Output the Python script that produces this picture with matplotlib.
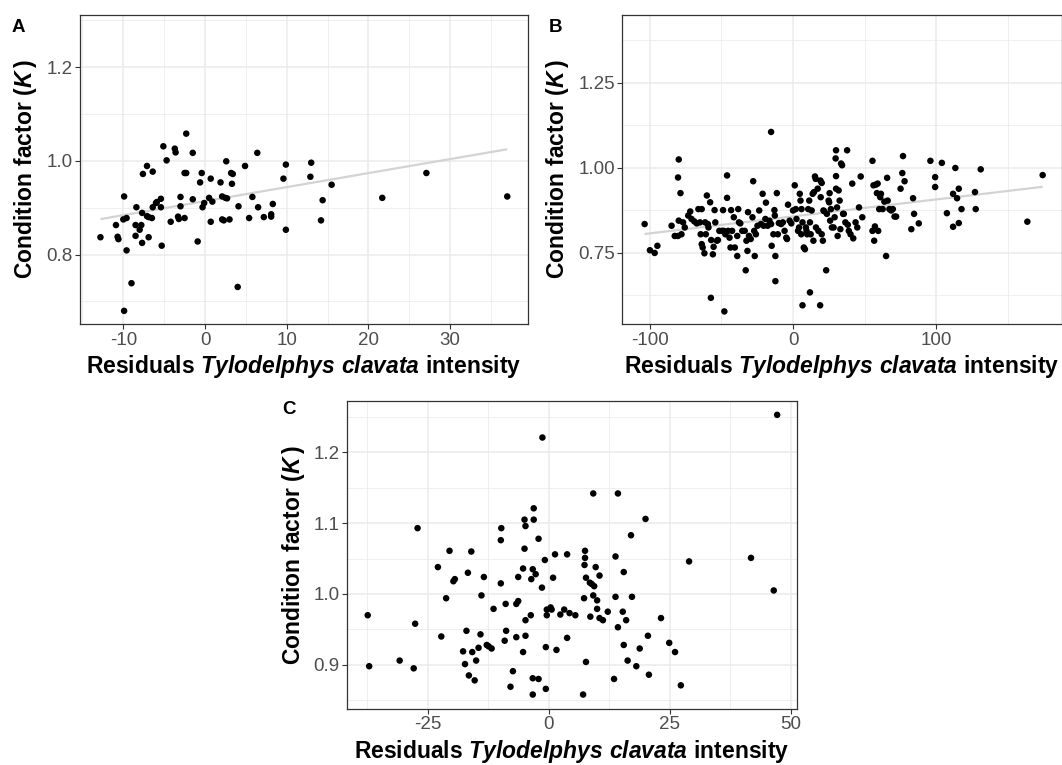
import matplotlib
matplotlib.use("Agg")
import matplotlib.pyplot as plt
import numpy as np

plt.rcParams['font.family'] = ['Liberation Sans', 'DejaVu Sans']
plt.rcParams['mathtext.fontset'] = 'custom'
plt.rcParams['mathtext.rm'] = 'Liberation Sans:bold'
plt.rcParams['mathtext.bf'] = 'Liberation Sans:bold'
plt.rcParams['mathtext.it'] = 'Liberation Sans:italic:bold'
plt.rcParams['axes.unicode_minus'] = False

# ---------------- Panel A data ----------------
a_x = [-12.8, -10.9, -10.7, -10.6, -9.9, -10.0, -9.6, -9.6, -9.0, -9.9, -8.4, -8.5, -8.5, -8.0,
       -7.8, -7.7, -7.7, -7.6, -7.1, -7.1, -6.9, -6.9, -6.5, -6.4, -6.4, -6.0, -5.9, -5.4, -5.4,
       -5.3, -5.1, -4.7, -4.2, -3.7, -3.6, -3.3, -3.2, -3.0, -3.0, -2.5, -2.5, -2.3, -2.3, -1.5,
       -1.5, -0.9, -0.6, -0.4, -0.3, -0.1, 0.5, 0.7, 0.7, 0.9, 1.9, 2.1, 2.1, 2.3, 2.5, 2.6, 2.7,
       3.0, 3.2, 3.3, 3.4, 4.0, 4.1, 4.9, 5.4, 5.8, 6.4, 6.5, 7.2, 8.1, 8.1, 8.3, 9.6, 9.9, 9.9,
       12.9, 13.0, 14.2, 14.4, 15.5, 21.7, 27.1, 37.0]
a_y = [0.837, 0.863, 0.838, 0.833, 0.924, 0.875, 0.878, 0.809, 0.739, 0.680, 0.901, 0.863, 0.840,
       0.853, 0.863, 0.889, 0.825, 0.972, 0.989, 0.882, 0.880, 0.837, 0.878, 0.977, 0.901, 0.910,
       0.912, 0.919, 0.901, 0.819, 1.031, 1.001, 0.870, 1.026, 1.018, 0.881, 0.876, 0.923, 0.903,
       0.878, 0.974, 0.974, 1.058, 1.017, 0.918, 0.828, 0.954, 0.974, 0.901, 0.910, 0.921, 0.962,
       0.870, 0.913, 0.954, 0.924, 0.875, 0.873, 0.921, 0.999, 0.920, 0.875, 0.974, 0.951, 0.972,
       0.731, 0.903, 0.989, 0.878, 0.923, 1.017, 0.901, 0.880, 0.886, 0.881, 0.908, 0.962, 0.992,
       0.853, 0.966, 0.996, 0.873, 0.916, 0.949, 0.921, 0.974, 0.924]
a_fit = (0.914, 0.00299)          # intercept, slope of the grey trend line
a_xticks = [-10, 0, 10, 20, 30]
a_yticks = [0.8, 1.0, 1.2]
a_xminor = [-15, -5, 5, 15, 25, 35]
a_yminor = [0.7, 0.9, 1.1, 1.3]

# ---------------- Panel B data ----------------
b_x = [-103.5, -99.8, -96.5, -94.6, -84.7, -82.5, -79.7, -80.2, -80.2, -78.5, -79.7, -77.8, -76.7,
       -75.5, -73.1, -71.7, -70.8, -68.9, -67.2, -66.0, -64.9, -64.4, -63.7, -63.7, -63.0, -61.8,
       -61.3, -60.8, -60.1, -59.4, -59.0, -57.8, -57.1, -57.3, -55.9, -55.4, -54.7, -54.2, -53.1,
       -52.4, -51.4, -49.5, -48.8, -48.3, -47.9, -47.2, -46.0, -46.0, -45.3, -44.3, -43.6, -43.2,
       -42.5, -41.3, -40.6, -38.9, -38.9, -38.2, -37.7, -36.8, -35.4, -33.7, -33.0, -32.5, -31.8,
       -31.4, -30.7, -29.5, -28.3, -27.8, -27.1, -26.7, -25.9, -24.8, -23.6, -22.4, -21.2, -20.5,
       -19.3, -18.9, -17.7, -16.5, -15.3, -15.3, -14.9, -13.7, -13.0, -12.7, -12.3, -12.3, -11.3,
       -10.6, -9.9, -8.3, -7.1, -5.9, -4.7, -4.2, -3.5, -2.4, -1.2, 0.0, 1.2, 1.9, 2.4, 3.5, 4.2,
       4.7, 5.2, 5.7, 5.9, 6.6, 6.6, 7.5, 8.3, 9.0, 9.4, 9.9, 10.6, 11.3, 11.8, 11.8, 12.3, 13.0,
       13.7, 14.2, 14.6, 15.3, 15.8, 16.0, 17.2, 17.7, 18.9, 19.1, 19.3, 20.0, 20.0, 20.8, 21.2,
       21.7, 23.1, 23.6, 24.8, 25.2, 25.5, 25.9, 26.4, 27.1, 28.3, 29.0, 30.0, 29.7, 30.0, 30.0,
       30.7, 31.1, 31.8, 32.5, 33.0, 33.5, 34.2, 34.9, 35.4, 36.5, 37.7, 38.2, 38.9, 40.1, 41.3,
       42.0, 43.6, 44.8, 46.0, 47.2, 48.3, 55.4, 55.4, 56.1, 56.6, 57.1, 57.8, 58.5, 59.0, 59.4,
       60.1, 60.8, 61.3, 62.5, 63.7, 64.9, 65.6, 66.0, 67.2, 68.4, 69.6, 70.8, 71.9, 75.0, 76.2,
       76.7, 77.8, 82.5, 83.7, 84.4, 87.7, 95.8, 99.1, 99.1, 103.8, 107.3, 111.6, 111.6, 113.2,
       114.4, 115.6, 115.6, 117.5, 126.9, 127.4, 130.9, 163.4, 174.1]
b_y = [0.834, 0.757, 0.749, 0.770, 0.829, 0.799, 1.024, 0.971, 0.799, 0.925, 0.844, 0.804, 0.839,
       0.824, 0.859, 0.871, 0.849, 0.842, 0.836, 0.878, 0.839, 0.804, 0.878, 0.775, 0.765, 0.748,
       0.839, 0.804, 0.918, 0.834, 0.824, 0.898, 0.787, 0.617, 0.745, 0.767, 0.875, 0.839, 0.785,
       0.787, 0.814, 0.814, 0.875, 0.814, 0.577, 0.804, 0.977, 0.911, 0.814, 0.794, 0.765, 0.875,
       0.814, 0.854, 0.765, 0.740, 0.799, 0.878, 0.839, 0.836, 0.814, 0.814, 0.698, 0.785, 0.755,
       0.869, 0.799, 0.790, 0.854, 0.960, 0.814, 0.740, 0.804, 0.829, 0.874, 0.834, 0.923, 0.829,
       0.849, 0.897, 0.829, 0.844, 1.105, 0.834, 0.770, 0.804, 0.875, 0.859, 0.740, 0.666, 0.925,
       0.804, 0.837, 0.834, 0.839, 0.814, 0.794, 0.790, 0.891, 0.844, 0.836, 0.874, 0.948, 0.878,
       0.849, 0.814, 0.824, 0.923, 0.903, 0.804, 0.878, 0.839, 0.595, 0.765, 0.760, 0.824, 0.814,
       0.804, 0.878, 0.903, 0.633, 0.839, 0.804, 0.874, 0.923, 0.785, 0.928, 0.974, 0.967, 0.824,
       0.938, 0.814, 0.595, 0.962, 0.913, 0.804, 0.955, 0.785, 0.874, 0.872, 0.698, 0.864, 0.903,
       0.898, 0.925, 0.844, 0.878, 0.824, 0.824, 0.854, 1.051, 1.027, 0.975, 0.938, 0.883, 0.799,
       0.933, 0.903, 0.819, 1.012, 1.007, 0.864, 0.864, 0.839, 1.051, 0.832, 0.814, 0.804, 0.953,
       0.792, 0.839, 0.824, 0.883, 0.974, 0.854, 1.020, 0.814, 0.948, 0.785, 0.827, 0.950, 0.925,
       0.953, 0.814, 0.878, 0.913, 0.923, 0.878, 0.900, 0.740, 0.970, 0.903, 0.878, 0.874, 0.878,
       0.856, 0.856, 0.938, 0.984, 1.034, 0.960, 0.819, 0.910, 0.864, 0.836, 1.020, 0.972, 0.943,
       1.014, 0.866, 0.826, 0.923, 0.999, 0.910, 0.938, 0.837, 0.878, 0.928, 0.878, 0.995, 0.841,
       0.978]
b_fit = (0.8565, 0.0005)
b_xticks = [-100, 0, 100]
b_yticks = [0.75, 1.00, 1.25]
b_xminor = [-50, 50, 150]
b_yminor = [0.625, 0.875, 1.125, 1.375]

# ---------------- Panel C data ----------------
c_x = [-37.4, -37.1, -30.8, -27.9, -27.6, -27.1, -22.9, -22.2, -21.2, -20.5, -19.7, -19.4, -17.7,
       -17.3, -17.0, -16.7, -16.5, -16.0, -15.8, -15.3, -15.0, -14.5, -14.1, -13.9, -13.4, -12.8,
       -12.4, -11.8, -11.4, -9.9, -9.9, -9.8, -9.1, -8.9, -8.8, -7.9, -7.4, -6.7, -6.7, -6.3,
       -6.3, -5.3, -5.3, -5.0, -5.0, -4.8, -4.8, -4.8, -3.7, -3.6, -3.3, -3.3, -3.3, -3.1, -3.1,
       -2.7, -2.1, -2.1, -1.4, -1.3, -0.8, -0.6, -0.6, -0.4, -0.4, 0.4, 0.6, 0.9, 1.3, 1.6, 2.4,
       3.2, 3.8, 3.8, 4.3, 5.5, 7.1, 7.3, 7.4, 7.5, 7.5, 7.7, 7.7, 8.5, 8.6, 8.9, 9.2, 9.2, 9.4,
       9.7, 10.0, 10.0, 10.5, 10.5, 11.2, 12.2, 13.5, 13.8, 13.8, 14.3, 14.3, 15.3, 15.5, 15.5,
       16.0, 16.3, 17.0, 17.2, 18.1, 18.8, 20.0, 20.5, 20.7, 23.2, 24.9, 26.1, 27.3, 29.0, 41.8,
       46.5, 47.2]
c_y = [0.970, 0.898, 0.906, 0.895, 0.958, 1.093, 1.038, 0.940, 0.994, 1.061, 1.018, 1.021, 0.919,
       0.901, 0.948, 1.030, 0.885, 1.060, 0.918, 0.878, 0.906, 0.924, 0.943, 0.998, 1.024, 0.928,
       0.926, 0.923, 0.979, 1.015, 1.076, 1.093, 0.934, 0.986, 0.948, 0.869, 0.891, 0.939, 0.986,
       0.990, 1.024, 0.918, 1.036, 1.064, 1.105, 1.096, 0.963, 0.941, 0.970, 1.021, 0.858, 0.881,
       1.035, 1.105, 1.121, 1.028, 0.880, 1.078, 1.009, 1.221, 1.048, 0.866, 0.925, 0.970, 0.978,
       0.981, 0.978, 1.023, 1.056, 0.921, 0.971, 0.978, 1.056, 0.938, 0.973, 0.970, 0.858, 0.994,
       1.041, 1.051, 1.061, 0.904, 1.023, 1.016, 0.968, 1.014, 1.142, 0.998, 1.011, 1.038, 0.991,
       0.979, 1.026, 0.966, 0.963, 0.975, 0.880, 0.996, 1.053, 0.953, 1.142, 0.975, 1.031, 0.928,
       0.963, 0.906, 1.083, 0.996, 0.898, 0.923, 1.106, 0.941, 0.886, 0.966, 0.931, 0.918, 0.871,
       1.046, 1.051, 1.005, 1.253]
c_xticks = [-25, 0, 25, 50]
c_yticks = [0.9, 1.0, 1.1, 1.2]
c_xminor = [-37.5, -12.5, 12.5, 37.5]
c_yminor = [0.85, 0.95, 1.05, 1.15, 1.25]

xlabel = r'$\mathrm{Residuals}\ \mathit{Tylodelphys\ clavata}\ \mathrm{intensity}$'
ylabel = r'$\mathrm{Condition\ factor\ (}\mathit{K}\,\mathrm{)}$'

W, H = 1062, 765
fig = plt.figure(figsize=(W / 100, H / 100), dpi=100)


def box(l, r, t, b):
    return [l / W, 1 - b / H, (r - l) / W, (b - t) / H]


def panel(rect, x, y, xt, yt, xm, ym, xlim, ylim, ylab_fmt, fit, tag, tagpos):
    ax = fig.add_axes(rect)
    ax.set_xlim(*xlim)
    ax.set_ylim(*ylim)
    for v in xm:
        ax.axvline(v, color='#EBEBEB', lw=0.55, zorder=0)
    for v in ym:
        ax.axhline(v, color='#EBEBEB', lw=0.55, zorder=0)
    for v in xt:
        ax.axvline(v, color='#EBEBEB', lw=1.1, zorder=0)
    for v in yt:
        ax.axhline(v, color='#EBEBEB', lw=1.1, zorder=0)
    if fit is not None:
        xs = np.array([min(x), max(x)])
        ax.plot(xs, fit[0] + fit[1] * xs, color='#D3D3D3', lw=1.6, zorder=1,
                solid_capstyle='butt')
    ax.scatter(x, y, s=22, c='black', edgecolors='none', zorder=2)
    ax.set_xticks(xt)
    ax.set_xticklabels([str(v) for v in xt])
    ax.set_yticks(yt)
    ax.set_yticklabels([ylab_fmt.format(v) for v in yt])
    ax.tick_params(axis='both', colors='#333333', labelcolor='#4D4D4D', labelsize=13.5,
                   length=3.5, width=0.8, pad=2)
    for s in ax.spines.values():
        s.set_color('#333333')
        s.set_linewidth(0.9)
    ax.set_xlabel(xlabel, fontsize=16.5, color='black', labelpad=3)
    ax.set_ylabel(ylabel, fontsize=16.5, color='black', labelpad=5)
    fig.text(tagpos[0] / W, 1 - tagpos[1] / H, tag, fontsize=13.5, fontweight='bold',
             ha='left', va='center')
    return ax


panel(box(80.1, 527.6, 15, 324), a_x, a_y, a_xticks, a_yticks, a_xminor, a_yminor,
      (-15.29, 39.49), (0.652, 1.311), '{:.1f}', a_fit, 'A', (12, 27))
panel(box(622.4, 1061.6, 15, 324), b_x, b_y, b_xticks, b_yticks, b_xminor, b_yminor,
      (-119.0, 187.3), (0.540, 1.449), '{:.2f}', b_fit, 'B', (549, 27))
panel(box(347.4, 796.5, 400.7, 708.7), c_x, c_y, c_xticks, c_yticks, c_xminor, c_yminor,
      (-41.6, 51.2), (0.838, 1.273), '{:.1f}', None, 'C', (282, 410))

fig.savefig('out.png', dpi=100)
